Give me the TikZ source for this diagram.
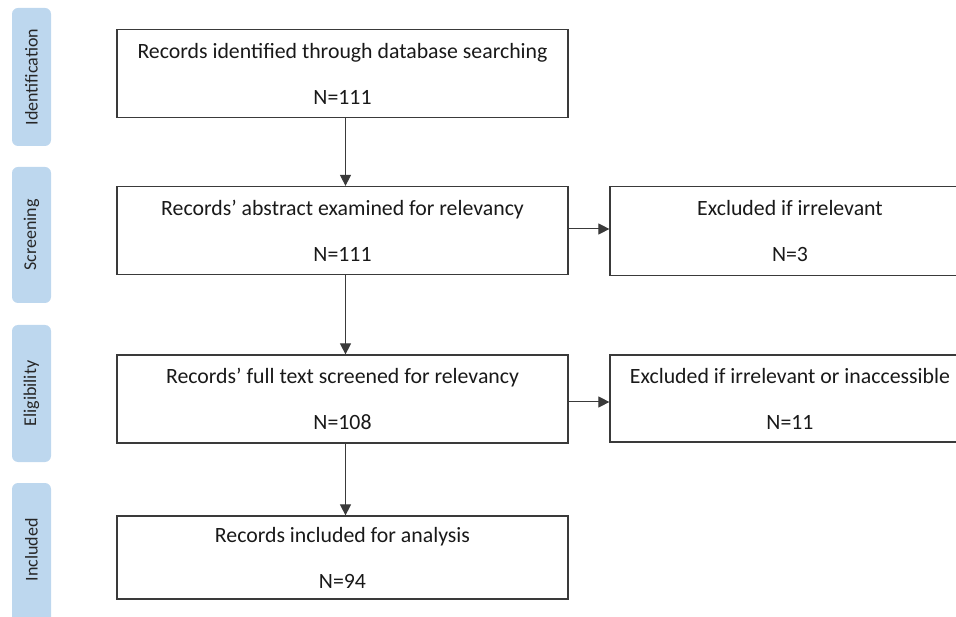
\documentclass[tikz,border=0pt]{standalone}
\usepackage{fontspec}
\setmainfont{Carlito}
\usetikzlibrary{arrows.meta}
\definecolor{tabblue}{HTML}{BDD7EE}
\definecolor{linegray}{HTML}{3A3A3A}
\tikzset{
  stage/.style={fill=tabblue, draw=none, rounded corners=6pt},
  stagelabel/.style={rotate=90, font=\fontsize{18}{20}\selectfont, text=black!85},
  recbox/.style={draw=linegray, line width=1.2pt, minimum width=451pt, minimum height=88pt, inner sep=0pt, align=center, font=\fontsize{21.8}{46}\selectfont, text=black!90},
  exbox/.style={draw=linegray, line width=1.2pt, minimum width=360pt, minimum height=89pt, inner sep=0pt, align=center, font=\fontsize{21.8}{46}\selectfont, text=black!90},
  flow/.style={draw=linegray, line width=1pt, -{Triangle[length=11pt, width=11pt]}}
}
\begin{document}
\begin{tikzpicture}[x=1pt, y=-1pt]
\useasboundingbox (0,0) rectangle (956,617);
\clip (0,0) rectangle (956,617);
% stage tabs
\path[stage] (12,8) rectangle (51,146);
\path[stage] (12,167) rectangle (51,303);
\path[stage] (12,325) rectangle (51,462);
\path[stage] (12,483) rectangle (51,630);
\node[stagelabel] (l1) at (31.5,77) {Identification};
\node[stagelabel] (l2) at (31.5,235) {Screening};
\node[stagelabel] (l3) at (31.5,393.5) {Eligibility};
\node[stagelabel] (l4) at (31.5,550) {Included};
% main boxes
\node[recbox] (b1) at (342.5,73.5) {Records identified through database searching\\N=111};
\node[recbox] (b2) at (342.5,230.5) {Records’ abstract examined for relevancy\\N=111};
\node[recbox] (b3) at (342.5,399) {Records’ full text screened for relevancy\\N=108};
\node[recbox, minimum height=83pt] (b4) at (342.5,557.5) {Records included for analysis\\N=94};
% exclusion boxes
\node[exbox] (e2) at (790,231) {Excluded if irrelevant\\N=3};
\node[exbox, minimum height=87pt] (e3) at (790,398.5) {Excluded if irrelevant or inaccessible\\N=11};
% connectors
\draw[flow] ([xshift=3pt]b1.south) -- ([xshift=3pt]b2.north);
\draw[flow] ([xshift=3pt]b2.south) -- ([xshift=3pt]b3.north);
\draw[flow] ([xshift=3pt]b3.south) -- ([xshift=3pt]b4.north);
\draw[flow] (b2.east |- 0,229) -- (e2.west |- 0,229);
\draw[flow] (b3.east |- 0,402) -- (e3.west |- 0,402);
\end{tikzpicture}
\end{document}
